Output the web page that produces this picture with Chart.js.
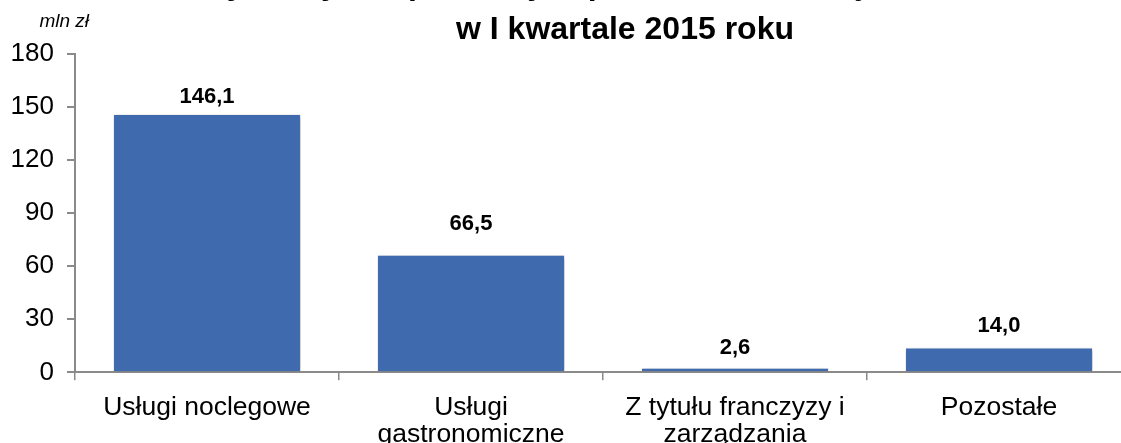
<!DOCTYPE html>
<html>
<head>
<meta charset="utf-8">
<script src="https://cdn.jsdelivr.net/npm/chart.js@4"></script>
<style>
  html, body { margin: 0; padding: 0; background: #fff; overflow: hidden; width: 1121px; height: 443px; }
  #wrap { position: absolute; left: 0; top: -40px; width: 1250px; height: 520px; }
</style>
</head>
<body>
<div id="wrap"><canvas id="chart" width="1250" height="520"></canvas></div>
<script>
const titleLines = ['Przychody ze sprzedaży w podziale na rodzaje działalności', 'w I kwartale 2015 roku'];
const unitLabel = 'mln zł';
const categories = [['Usługi noclegowe'], ['Usługi', 'gastronomiczne'], ['Z tytułu franczyzy i', 'zarządzania'], ['Pozostałe']];
const values = [146.1, 66.5, 2.6, 14.0];
const yTicks = [0, 30, 60, 90, 120, 150, 180];
const labelLift = [17, 31, 20, 22];

Chart.defaults.font.family = '"Liberation Sans", Arial, sans-serif';
Chart.defaults.color = '#000';

const axisGray = '#8a8a8a';

// bar shadow, like the office chart
const barShadow = {
    id: 'barShadow',
    beforeDatasetsDraw(chart) {
        const ctx = chart.ctx;
        ctx.save();
        ctx.shadowColor = 'rgba(0,0,0,0.28)';
        ctx.shadowBlur = 4;
        ctx.shadowOffsetX = 1;
        ctx.shadowOffsetY = 1;
    },
    afterDatasetsDraw(chart) {
        chart.ctx.restore();
    }
};

// title is centred on the whole canvas, not only on the padded box
const titleCenter = {
    id: 'titleCenter',
    afterLayout(chart) {
        if (chart.titleBlock) {
            chart.titleBlock.left = 0;
            chart.titleBlock.right = chart.width;
        }
    }
};

// values above the bars and the unit in the corner
const valueLabels = {
    id: 'valueLabels',
    afterDraw(chart) {
        const ctx = chart.ctx;
        const meta = chart.getDatasetMeta(0);
        ctx.save();
        ctx.font = 'bold 22px "Liberation Sans", Arial, sans-serif';
        ctx.fillStyle = '#000';
        ctx.textAlign = 'center';
        ctx.textBaseline = 'middle';
        meta.data.forEach((bar, i) => {
            const txt = values[i].toFixed(1).replace('.', ',');
            ctx.fillText(txt, bar.x, bar.y - labelLift[i]);
        });

        ctx.font = 'italic 19px "Liberation Sans", Arial, sans-serif';
        ctx.textAlign = 'right';
        ctx.fillText(unitLabel, 89, 62);
        ctx.restore();
    }
};

new Chart(document.getElementById('chart'), {
    type: 'bar',
    data: {
        labels: categories,
        datasets: [{
            data: values,
            backgroundColor: '#3f6bae',
            borderColor: 'rgba(255,255,255,0.6)',
            borderWidth: 1,
            categoryPercentage: 1,
            barPercentage: 0.712
        }]
    },
    options: {
        responsive: false,
        animation: false,
        layout: { padding: { left: 9, right: 119, top: 0, bottom: 18 } },
        plugins: {
            legend: { display: false },
            tooltip: { enabled: false },
            title: {
                display: true,
                text: titleLines,
                font: { size: 32, weight: 'bold', lineHeight: 1.42 },
                color: '#000',
                padding: { top: 2.5, bottom: 0.6 }
            }
        },
        scales: {
            x: {
                offset: true,
                grid: {
                    offset: true,
                    drawOnChartArea: false,
                    drawTicks: true,
                    tickLength: 8,
                    color: axisGray,
                    lineWidth: 1.5
                },
                border: { color: axisGray, width: 2 },
                ticks: {
                    font: { size: 26.5, lineHeight: 1.05 },
                    padding: 13,
                    maxRotation: 0,
                    autoSkip: false
                }
            },
            y: {
                min: 0,
                max: 180,
                afterBuildTicks(axis) {
                    axis.ticks = yTicks.map(v => ({ value: v }));
                },
                afterFit(axis) {
                    axis.width = 66;
                },
                grid: {
                    drawOnChartArea: false,
                    tickLength: 8,
                    color: axisGray,
                    lineWidth: 2
                },
                border: { color: axisGray, width: 2 },
                ticks: {
                    font: { size: 26 },
                    padding: 13
                }
            }
        }
    },
    plugins: [barShadow, titleCenter, valueLabels]
});
</script>
</body>
</html>
